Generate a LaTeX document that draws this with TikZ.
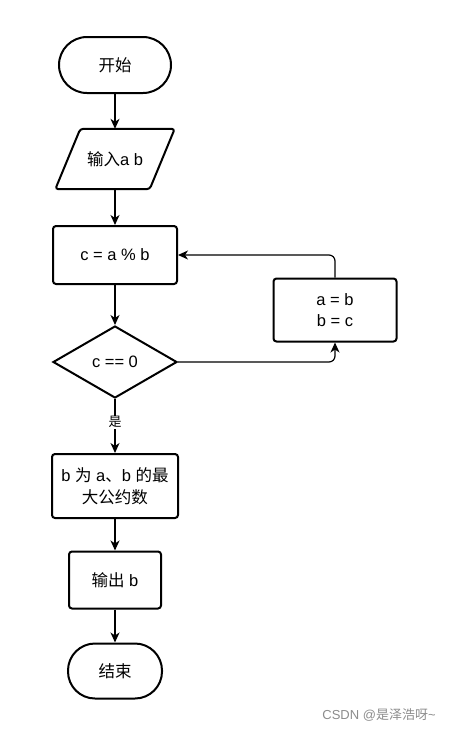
\documentclass[tikz,border=0pt]{standalone}
\usepackage{fontspec}
\setmainfont{Liberation Sans}
\newfontfamily\cjk{Noto Sans CJK SC}
\newcommand{\zh}[1]{{\cjk #1}}
\usetikzlibrary{arrows.meta}
\tikzset{
    >={Stealth[length=10pt, width=9pt, inset=3pt]}, % arrow heads
    every node/.style={font=\fontsize{16.5}{21.5}\selectfont}, % text size of the boxes
    terminal/.style={draw, line width=2pt, rounded corners=28pt, minimum height=56pt},
    process/.style={draw, line width=2pt, rounded corners=3pt, align=center},
    io/.style={minimum width=119pt, minimum height=60pt}, % the slanted border is drawn around it
    decision/.style={draw, line width=2pt, diamond, aspect=1.72, inner sep=0pt,
        minimum width=124pt, minimum height=72pt},
    flow/.style={->, line width=1.2pt}, % makes the edges directed
}
\usetikzlibrary{shapes.geometric}
\begin{document}
\begin{tikzpicture}[x=1pt, y=-1pt]
                  \useasboundingbox (0,0) rectangle (451,732);
                  \node[terminal, minimum width=112pt] at (115,65) (start) {\zh{开始}};
                  \node[io] at (115,159) (input) {\zh{输入}a b};
                  \draw[line width=2pt, rounded corners=3pt] ([xshift=25pt]input.north west) -- (input.north east)
                      -- ([xshift=-25pt]input.south east) -- (input.south west) -- cycle;
                  \node[process, minimum width=124pt, minimum height=58pt] at (115,255) (calc) {c = a \% b};
                  \node[decision] at (115,362) (check) {c == 0};
                  \node[process, minimum width=123pt, minimum height=63pt] at (335,310) (swap) {a = b\\b = c};
                  \node[process, minimum width=126pt, minimum height=64pt] at (115,486) (gcd) {b \zh{为} a\zh{、}b \zh{的最}\\\zh{大公约数}};
                  \node[process, minimum width=92pt, minimum height=57pt] at (115,580) (output) {\zh{输出} b};
                  \node[terminal, minimum width=94pt, minimum height=55pt, rounded corners=27pt] at (115,671) (stop) {\zh{结束}};
                  \node[text=black!45, font=\fontsize{13}{15}\selectfont] at (379,715) (mark) {CSDN @\zh{是泽浩呀}\textasciitilde};
                  \draw[flow] (start) -- (input);
                  \draw[flow] (input) -- (calc);
                  \draw[flow] (calc) -- (check);
                  \draw[flow, rounded corners=6pt] (check.east) -| (swap.south);
                  \draw[flow, rounded corners=6pt] (swap.north) |- (calc.east);
                  \draw[flow] (check.south) -- node[pos=0.43, fill=white, inner sep=1pt, font=\fontsize{13}{15}\selectfont]{\zh{是}} (gcd.north);
                  \draw[flow] (gcd) -- (output);
                  \draw[flow] (output) -- (stop);
              \end{tikzpicture}
\end{document}
